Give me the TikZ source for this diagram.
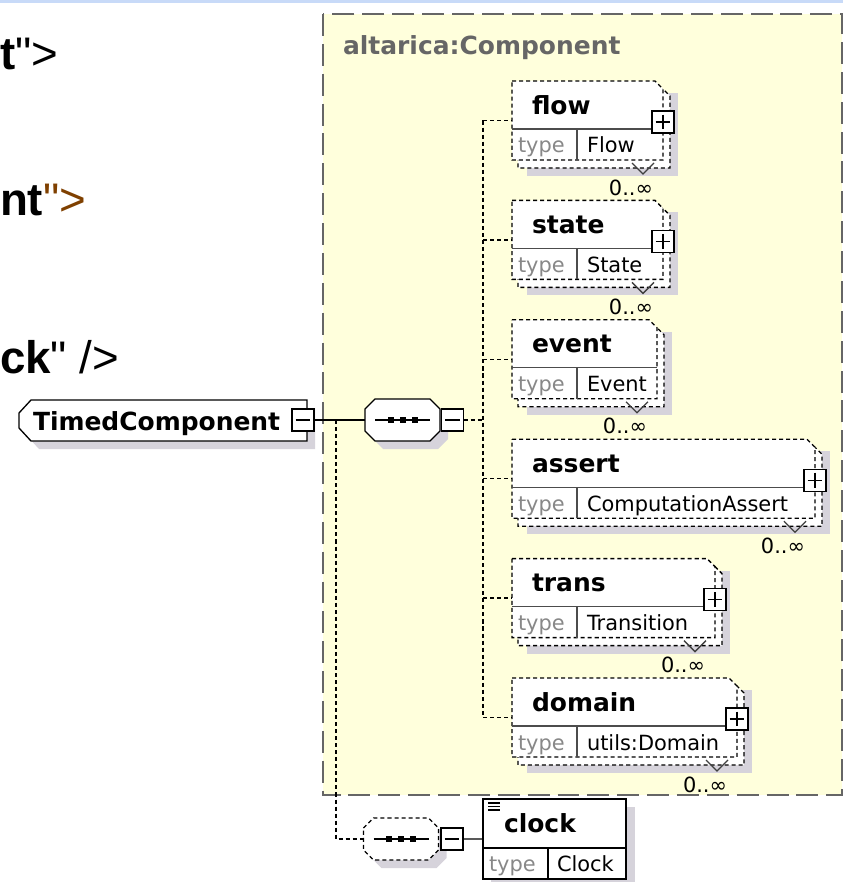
\documentclass[tikz,border=0pt]{standalone}
\usepackage{fontspec}
\setmainfont{DejaVu Sans}
\newfontfamily\codefont{Liberation Sans}
\usetikzlibrary{positioning}
\definecolor{paneYellow}{HTML}{FFFFDC}
\definecolor{paneGray}{HTML}{666666}
\definecolor{shadeGray}{HTML}{D6D3DB}
\definecolor{barBlue}{HTML}{C8DAF8}
\definecolor{attrBrown}{HTML}{7F4000}
\definecolor{typeGray}{HTML}{888888}

\begin{document}
\begin{tikzpicture}[x=0.02cm,y=-0.02cm,
    every node/.style={inner sep=0pt,outer sep=0pt},
    title/.style={anchor=base west,font=\fontsize{14.2pt}{17pt}\selectfont\bfseries},
    small/.style={anchor=base west,font=\fontsize{11.9pt}{14pt}\selectfont},
    code/.style={anchor=base west,font=\codefont\fontsize{26pt}{30pt}\selectfont},
    line/.style={line width=0.75pt},
    dots/.style={line width=0.75pt,dash pattern=on 2.3pt off 1.7pt},
    sqbox/.style={draw,line width=0.8pt,fill=white,minimum size=0.44cm},
    minusbox/.style={sqbox,path picture={
      \draw[line width=0.8pt] ([xshift=2pt]path picture bounding box.west) -- ([xshift=-2pt]path picture bounding box.east);}},
    plusbox/.style={sqbox,path picture={
      \draw[line width=0.8pt] ([xshift=2pt]path picture bounding box.west) -- ([xshift=-2pt]path picture bounding box.east);
      \draw[line width=0.8pt] ([yshift=-2pt]path picture bounding box.north) -- ([yshift=2pt]path picture bounding box.south);}}]
  \useasboundingbox (0,0) rectangle (843,882);
  \fill[barBlue] (0,0) rectangle (843,3);

  % Schema source behind the diagram
  \node[code] (codeA) at (0,70) {\textbf{t}">};
  \node[code] (codeB) at (0,215) {\textbf{nt}{\color{attrBrown}">}};
  \node[code] (codeC) at (0,373) {\textbf{ck}" />};

  % The complex type pane
  \draw[paneGray,line width=1pt,dash pattern=on 12.5pt off 4.5pt,fill=paneYellow]
    (323,14) rectangle (842,795);
  \node[title,text=paneGray] (paneLabel) at (343,55) {altarica:Component};

  % Shapes used twice
  \def\seqOutline{(-37.5,-11) -- (-27.5,-21) -- (27.5,-21) -- (37.5,-11)
    -- (37.5,11) -- (27.5,21) -- (-27.5,21) -- (-37.5,11) -- cycle}
  \def\seqMark{\draw[line] (-27.5,0) -- (27.5,0);
    \foreach \s in {-12,0,12}{\fill (\s-3,-3) rectangle (\s+3,3);}}

  % Root element
  \fill[shadeGray] (27,421) -- (39,408) -- (315,408) -- (315,449) -- (39,449) -- (27,436) -- cycle;
  \filldraw[line,fill=white] (19,413) -- (31,400) -- (307,400) -- (307,441) -- (31,441) -- (19,428) -- cycle;
  \node[title] (root) at (33,430) {TimedComponent};
  \node[minusbox] (rootMinus) at (303,420) {};

  % Sequence of the pane
  \node[minimum width=1.5cm,minimum height=0.84cm] (seq) at (402.5,420) {};
  \begin{scope}[shift={(402.5,420)}]
    \fill[shadeGray,shift={(8,8)}] \seqOutline;
    \filldraw[line,fill=white] \seqOutline;
    \seqMark
  \end{scope}
  \node[minusbox] (seqMinus) at (452.5,420) {};
  \draw[line] (rootMinus.east) -- (seq.west);
  \coordinate (bus) at (483,420);

  % Children of the sequence: {name, type, right edge, has children}
  \def\ourChildren{{
    {"flow","Flow",663,1},
    {"state","State",663,1},
    {"event","Event",657,0},
    {"assert","ComputationAssert",815,1},
    {"trans","Transition",715,1},
    {"domain","utils:Domain",737,1}
  }}
  \pgfmathtruncatemacro{\length}{5}% Zero based.
  \foreach \i in {0,...,\length}{
    \pgfmathsetmacro{\boxTop}{81+119.4*\i}
    \pgfmathsetmacro{\elName}{\ourChildren[\i][0]}
    \pgfmathsetmacro{\elType}{\ourChildren[\i][1]}
    \pgfmathsetmacro{\boxRight}{\ourChildren[\i][2]}
    \pgfmathtruncatemacro{\hasKids}{\ourChildren[\i][3]}
    \pgfmathsetmacro{\boxW}{(\boxRight-512)*0.02}
    \fill[shadeGray] (527,\boxTop+12) rectangle (\boxRight+15,\boxTop+95);
    \filldraw[dots,fill=white] (518,\boxTop+8) -- (\boxRight,\boxTop+8)
      -- (\boxRight+7,\boxTop+15) -- (\boxRight+7,\boxTop+87) -- (518,\boxTop+87) -- cycle;
    \filldraw[dots,fill=white] (512,\boxTop) -- (\boxRight-8,\boxTop)
      -- (\boxRight,\boxTop+8) -- (\boxRight,\boxTop+79) -- (512,\boxTop+79) -- cycle;
    \node[anchor=north west,minimum width=\boxW cm,minimum height=1.58cm] (c\i) at (512,\boxTop) {};
    \draw[line,black!70] (512,\boxTop+48) -- (\boxRight,\boxTop+48);
    \draw[line,black!70] (577,\boxTop+48) -- (577,\boxTop+79);
    \node[title] (n\i) at (532,\boxTop+33) {\elName};
    \node[small,text=typeGray] (k\i) at (518,\boxTop+72) {type};
    \node[small] (v\i) at (587,\boxTop+72) {\elType};
    \draw[line,black!75] (\boxRight-31,\boxTop+82) -- (\boxRight-20,\boxTop+93) -- (\boxRight-9,\boxTop+82);
    \node[small,anchor=base east] (m\i) at (\boxRight-10,\boxTop+114) {0..∞};
    \ifnum\hasKids=1
      \node[plusbox] (p\i) at (\boxRight,\boxTop+41) {};
    \fi
    \draw[dots] (c\i.west -| bus) -- (c\i.west);
  }
  \draw[dots] (c0.west -| bus) -- (c5.west -| bus);
  \draw[dots] (seqMinus.east) -- (bus);

  % Optional sequence with the clock element
  \node[minimum width=1.5cm,minimum height=0.84cm] (optSeq) at (401,839) {};
  \begin{scope}[shift={(401,839)}]
    \fill[shadeGray,shift={(8,8)}] \seqOutline;
    \filldraw[dots,fill=white] \seqOutline;
    \seqMark
  \end{scope}
  \node[minusbox] (optMinus) at (452,839) {};
  \coordinate (fork) at (336,420);
  \draw[dots] (fork) -- (fork |- optSeq.west) -- (optSeq.west);

  \fill[shadeGray] (491,807) rectangle (635,887);
  \node[draw,line width=0.8pt,fill=white,minimum width=2.86cm,minimum height=1.6cm,
    anchor=north west] (clock) at (483,799) {};
  \draw[line] (optMinus.east) -- (clock.west);
  \draw[line] (483,848) -- (626,848);
  \draw[line] (548,848) -- (548,879);
  \draw[line width=0.6pt] (488,803) -- (500,803) (488,806.5) -- (500,806.5) (488,810) -- (500,810);
  \node[title] (clockName) at (504,832) {clock};
  \node[small,text=typeGray] (clockKey) at (489,871) {type};
  \node[small] (clockType) at (557,871) {Clock};
\end{tikzpicture}
\end{document}
